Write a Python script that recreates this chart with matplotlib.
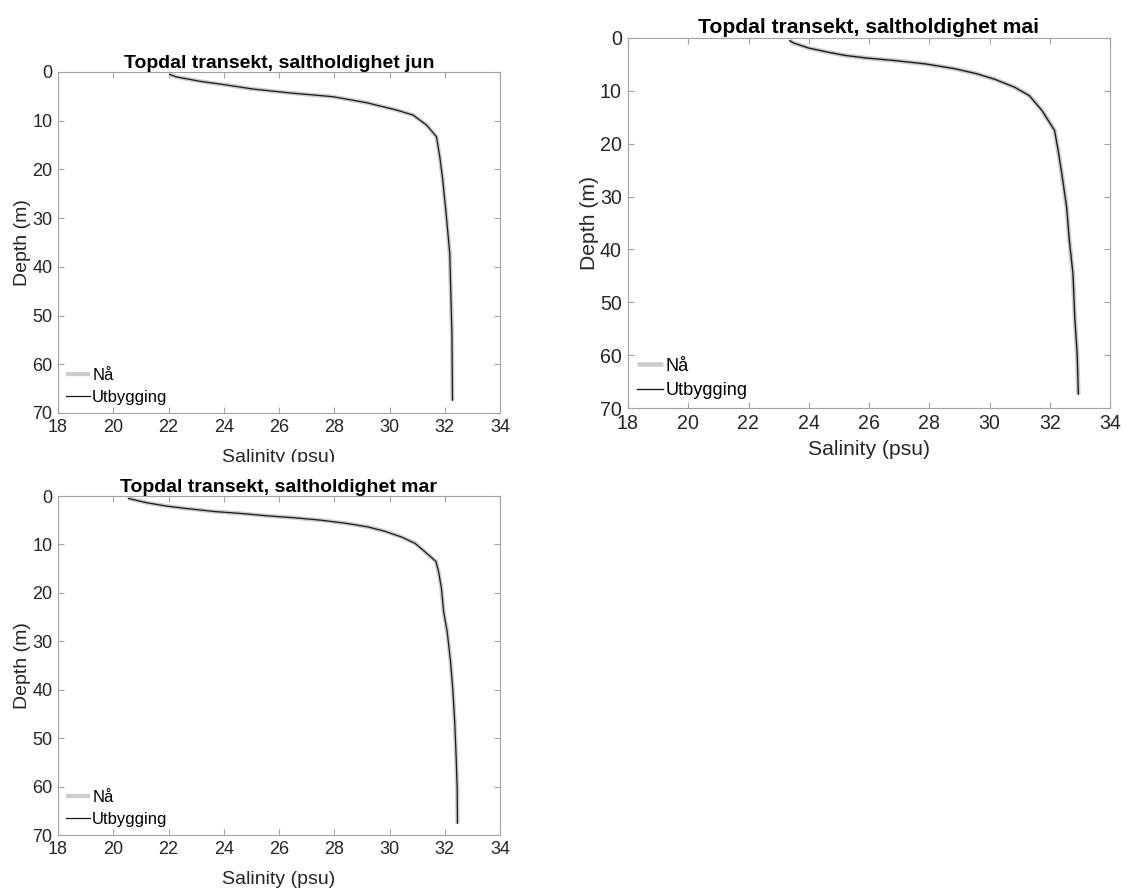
import matplotlib
matplotlib.use("Agg")
import matplotlib.pyplot as plt
from matplotlib.transforms import Bbox

plt.rcParams['font.family'] = ['Liberation Sans', 'DejaVu Sans']

# Salinity profiles (psu) against depth (m) for three months.
# Each month has a present-day profile ("Nå") and a post-development profile ("Utbygging").
depth_jun = [0.5, 1.0, 1.9, 2.6, 3.5, 4.3, 5.07, 6.3, 7.8, 8.83, 10.88, 13.28, 17.4,
             21.8, 29.7, 37.2, 45.4, 53.7, 67.4]
sal_jun_naa = [22.04, 22.28, 23.13, 24.02, 25.06, 26.40, 27.95, 29.17, 30.25, 30.85,
               31.34, 31.70, 31.82, 31.92, 32.06, 32.18, 32.22, 32.26, 32.28]
sal_jun_utb = [22.04, 22.28, 23.13, 24.02, 25.06, 26.40, 27.95, 29.17, 30.25, 30.85,
               31.34, 31.70, 31.82, 31.92, 32.06, 32.18, 32.22, 32.26, 32.28]

depth_mai = [0.5, 0.95, 1.9, 2.65, 3.3, 3.8, 4.3, 4.9, 5.8, 6.75, 7.8, 9.3, 10.9,
             13.7, 17.5, 21.3, 25.7, 32.0, 38.3, 44.6, 52.8, 59.8, 67.4]
sal_mai_naa = [23.37, 23.50, 24.00, 24.61, 25.21, 25.94, 26.91, 27.87, 28.84, 29.57,
               30.17, 30.83, 31.32, 31.74, 32.16, 32.28, 32.40, 32.56, 32.65, 32.77,
               32.83, 32.91, 32.95]
sal_mai_utb = [23.37, 23.50, 24.00, 24.61, 25.21, 25.94, 26.91, 27.87, 28.84, 29.57,
               30.17, 30.83, 31.32, 31.74, 32.16, 32.28, 32.40, 32.56, 32.65, 32.77,
               32.83, 32.91, 32.95]

depth_mar = [0.5, 0.75, 1.4, 2.1, 2.6, 3.2, 3.6, 4.1, 4.5, 5.0, 5.7, 6.4, 7.3, 8.5,
             9.8, 11.6, 13.5, 15.7, 19.1, 23.9, 28.1, 34.2, 39.8, 46.6, 53.5, 60.4, 67.6]
sal_mar_naa = [20.55, 20.73, 21.22, 21.95, 22.67, 23.65, 24.62, 25.59, 26.56, 27.53,
               28.50, 29.23, 29.84, 30.45, 30.93, 31.30, 31.68, 31.78, 31.88, 31.96,
               32.09, 32.21, 32.29, 32.36, 32.41, 32.45, 32.46]
sal_mar_utb = [20.55, 20.73, 21.22, 21.95, 22.67, 23.65, 24.62, 25.59, 26.56, 27.53,
               28.50, 29.23, 29.84, 30.45, 30.93, 31.30, 31.68, 31.78, 31.88, 31.96,
               32.09, 32.21, 32.29, 32.36, 32.41, 32.45, 32.46]

x_ticks = [18, 20, 22, 24, 26, 28, 30, 32, 34]
y_ticks = [0, 10, 20, 30, 40, 50, 60, 70]
legend_labels = ['Nå', 'Utbygging']

W, H = 1127, 888
fig = plt.figure(figsize=(W / 100, H / 100), dpi=100)


def px_axes(left, top, right, bottom):
    return fig.add_axes([left / W, 1 - bottom / H, (right - left) / W, (bottom - top) / H])


# (axes, title, depth, Nå, Utbygging, text scale, x-label pad)
panels = [
    (px_axes(58, 72, 500, 413), 'Topdal transekt, saltholdighet jun',
     depth_jun, sal_jun_naa, sal_jun_utb, 1.0, 9.5),
    (px_axes(628, 38, 1110, 408), 'Topdal transekt, saltholdighet mai',
     depth_mai, sal_mai_naa, sal_mai_utb, 1.09, 5.0),
    (px_axes(58, 496, 500, 835), 'Topdal transekt, saltholdighet mar',
     depth_mar, sal_mar_naa, sal_mar_utb, 1.0, 9.5),
]

spine_col = '#a3a3a3'
text_col = '#262626'

xlabels = []
for ax, title, depth, s_naa, s_utb, k, xpad in panels:
    ax.plot(s_naa, depth, color='#cccccc', lw=3.0 * k, solid_capstyle='butt', label=legend_labels[0])
    ax.plot(s_utb, depth, color='#1a1a1a', lw=0.9 * k, label=legend_labels[1])
    ax.set_xlim(18, 34)
    ax.set_ylim(70, 0)
    ax.set_xticks(x_ticks)
    ax.set_yticks(y_ticks)
    ax.tick_params(direction='in', length=4 * k, width=0.8, color=spine_col,
                   labelsize=13 * k, labelcolor=text_col, top=True, right=True,
                   pad=4 * k)
    for sp in ax.spines.values():
        sp.set_color(spine_col)
        sp.set_linewidth(0.8)
    ax.set_title(title, fontsize=14 * k, fontweight='bold', color='black', pad=3 * k)
    xl = ax.set_xlabel('Salinity (psu)', fontsize=14 * k, color=text_col, labelpad=xpad)
    ax.set_ylabel('Depth (m)', fontsize=14 * k, color=text_col, labelpad=0.5 * k)
    xlabels.append(xl)
    leg = ax.legend(loc='lower left', frameon=False, fontsize=12 * k,
                    handlelength=1.4, handletextpad=0.15, labelspacing=0.4,
                    borderpad=0.4, borderaxespad=0.1)
    for t in leg.get_texts():
        t.set_color('black')

# The upper-left x label is cut off where the lower panel begins
cut_y = H - 462
xlabels[0].set_clip_box(Bbox([[0, cut_y], [W, H]]))
xlabels[0].set_clip_on(True)

fig.savefig('out.png', dpi=100, facecolor='white')
